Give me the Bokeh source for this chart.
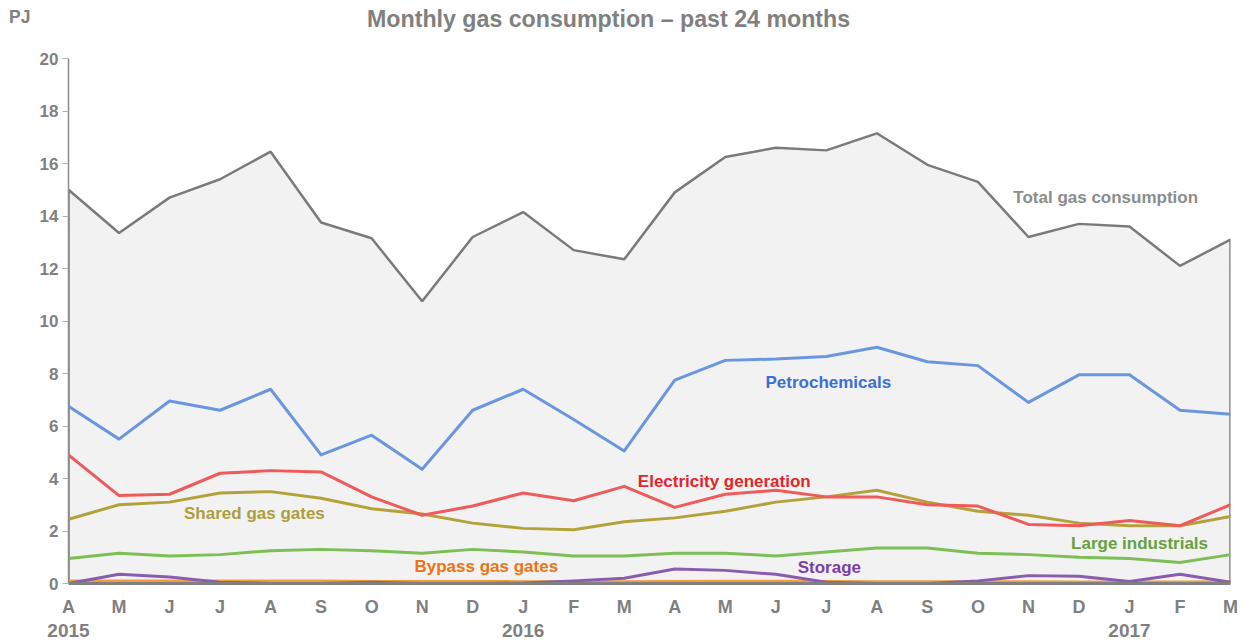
from bokeh.plotting import figure
from bokeh.models import Range1d, LinearAxis, FixedTicker, Label
from bokeh.embed import file_html
from bokeh.resources import INLINE

months = ["A", "M", "J", "J", "A", "S", "O", "N", "D", "J", "F", "M",
          "A", "M", "J", "J", "A", "S", "O", "N", "D", "J", "F", "M"]
year_labels = ["2015", "2016", "2017"]
year_index = [0, 9, 21]

total = [15.0, 13.35, 14.7, 15.4, 16.45, 13.75, 13.15, 10.75, 13.2, 14.15, 12.7, 12.35,
         14.9, 16.25, 16.6, 16.5, 17.15, 15.95, 15.3, 13.2, 13.7, 13.6, 12.1, 13.1]
petrochemicals = [6.75, 5.5, 6.95, 6.6, 7.4, 4.9, 5.65, 4.35, 6.6, 7.4, 6.25, 5.05,
                  7.75, 8.5, 8.55, 8.65, 9.0, 8.45, 8.3, 6.9, 7.95, 7.95, 6.6, 6.45]
electricity = [4.9, 3.35, 3.4, 4.2, 4.3, 4.25, 3.3, 2.6, 2.95, 3.45, 3.15, 3.7,
               2.9, 3.4, 3.55, 3.3, 3.3, 3.0, 2.95, 2.25, 2.2, 2.4, 2.2, 3.0]
shared = [2.45, 3.0, 3.1, 3.45, 3.5, 3.25, 2.85, 2.65, 2.3, 2.1, 2.05, 2.35,
          2.5, 2.75, 3.1, 3.3, 3.55, 3.1, 2.75, 2.6, 2.3, 2.2, 2.2, 2.55]
large = [0.95, 1.15, 1.05, 1.1, 1.25, 1.3, 1.25, 1.15, 1.3, 1.2, 1.05, 1.05,
         1.15, 1.15, 1.05, 1.2, 1.35, 1.35, 1.15, 1.1, 1.0, 0.95, 0.8, 1.1]
storage = [0.0, 0.35, 0.25, 0.05, 0.0, 0.0, 0.05, 0.0, 0.0, 0.02, 0.1, 0.2,
           0.55, 0.5, 0.35, 0.05, 0.0, 0.0, 0.1, 0.3, 0.28, 0.08, 0.35, 0.05]
bypass = [0.1, 0.1, 0.1, 0.1, 0.1, 0.1, 0.08, 0.08, 0.08, 0.07, 0.07, 0.07,
          0.08, 0.09, 0.09, 0.08, 0.07, 0.07, 0.07, 0.07, 0.06, 0.06, 0.06, 0.07]

Y_MAX = 20
xs = list(range(len(months)))
FONT = "Liberation Sans"
GRAY = "#808080"

# the frame reaches the top of the canvas so the title can sit inside it;
# the value axis itself is bounded to 0..20
p = figure(width=1245, height=641, output_backend="svg", toolbar_location=None,
           x_range=Range1d(0, len(months) - 1), y_range=Range1d(0, Y_MAX * 583 / 525),
           min_border_left=68, min_border_right=15, min_border_top=0, min_border_bottom=58,
           x_axis_location=None, y_axis_location=None)
p.outline_line_color = None
p.grid.visible = False
p.background_fill_color = "white"

# area under total
p.patch(xs + xs[::-1], total + [0] * len(xs), fill_color="#f2f2f2",
        line_color="#7a7a7a", line_width=2.5)

series = [
    (bypass, "#f79a3a"),
    (storage, "#8a5cb0"),
    (large, "#7dbf55"),
    (shared, "#b3a23a"),
    (electricity, "#ef5a5a"),
    (petrochemicals, "#6a96e0"),
]
for ys, c in series:
    p.line(xs, ys, line_color=c, line_width=3, line_join="round")

# value axis
yax = LinearAxis(ticker=FixedTicker(ticks=list(range(0, Y_MAX + 1, 2))), bounds=(0, Y_MAX))
yax.axis_line_color = "#8c8c8c"
yax.axis_line_width = 1.5
yax.major_tick_line_color = "#b0b0b0"
yax.major_tick_out = 6
yax.major_tick_in = 0
yax.minor_tick_line_color = None
yax.major_label_standoff = 4
yax.major_label_text_font = FONT
yax.major_label_text_font_style = "bold"
yax.major_label_text_font_size = "17px"
yax.major_label_text_color = GRAY
p.add_layout(yax, "left")

# unit label "PJ" as an outer left axis with a single label
unit_ax = LinearAxis(ticker=FixedTicker(ticks=[21.6]), major_label_overrides={21.6: "PJ"})
unit_ax.axis_line_color = None
unit_ax.major_tick_line_color = None
unit_ax.minor_tick_line_color = None
unit_ax.major_tick_out = 0
unit_ax.major_tick_in = 0
unit_ax.major_label_standoff = 6
unit_ax.major_label_text_font = FONT
unit_ax.major_label_text_font_style = "bold"
unit_ax.major_label_text_font_size = "17.5px"
unit_ax.major_label_text_color = GRAY
p.add_layout(unit_ax, "left")

# month axis
xax = LinearAxis(ticker=FixedTicker(ticks=xs),
                 major_label_overrides={i: m for i, m in enumerate(months)})
xax.axis_line_color = GRAY
xax.axis_line_width = 3
xax.major_tick_line_color = None
xax.minor_tick_line_color = None
xax.major_tick_out = 0
xax.major_label_standoff = 13
xax.major_label_text_font = FONT
xax.major_label_text_font_style = "bold"
xax.major_label_text_font_size = "18px"
xax.major_label_text_color = GRAY
p.add_layout(xax, "below")

# year axis
yrax = LinearAxis(ticker=FixedTicker(ticks=year_index),
                  major_label_overrides={i: y for i, y in zip(year_index, year_labels)})
yrax.axis_line_color = None
yrax.major_tick_line_color = None
yrax.minor_tick_line_color = None
yrax.major_tick_out = 0
yrax.major_label_standoff = 4
yrax.major_label_text_font = FONT
yrax.major_label_text_font_style = "bold"
yrax.major_label_text_font_size = "19px"
yrax.major_label_text_color = GRAY
p.add_layout(yrax, "below")

# title
p.add_layout(Label(x=10.69, y=21.52, text="Monthly gas consumption \u2013 past 24 months",
                   text_align="center", text_baseline="middle", text_font=FONT,
                   text_font_style="bold", text_font_size="23.2px", text_color=GRAY))

# series labels
annotations = [
    ("Total gas consumption", 20.53, 14.7, "#8c8c8c"),
    ("Petrochemicals", 15.04, 7.66, "#3a6fd8"),
    ("Electricity generation", 12.98, 3.89, "#e3242b"),
    ("Shared gas gates", 3.68, 2.67, "#ad9e3c"),
    ("Large industrials", 21.2, 1.52, "#65a23e"),
    ("Bypass gas gates", 8.27, 0.65, "#f07212"),
    ("Storage", 15.06, 0.61, "#7a3fa6"),
]
for t, x, y, c in annotations:
    p.add_layout(Label(x=x, y=y, text=t, text_align="center", text_baseline="middle",
                       text_font=FONT, text_font_style="bold", text_font_size="17px",
                       text_color=c))

open("out.html", "w").write(file_html(p, INLINE))
